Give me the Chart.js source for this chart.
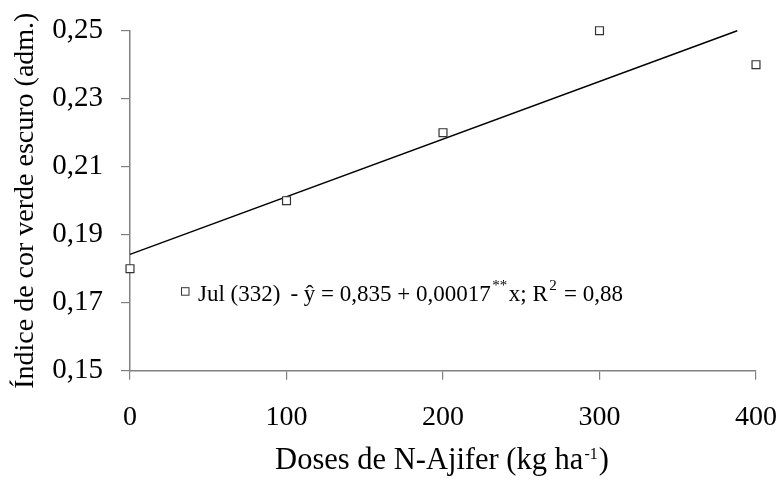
<!DOCTYPE html>
<html>
<head>
<meta charset="utf-8">
<script src="https://cdn.jsdelivr.net/npm/chart.js@4/dist/chart.umd.min.js"></script>
<style>html,body{margin:0;padding:0;background:#fff;}canvas{display:block;}</style>
</head>
<body>
<canvas id="c" width="781" height="487"></canvas>
<script>
// ---- data ----
const doses = [0, 100, 200, 300, 400];
const indiceJul = [0.18, 0.20, 0.22, 0.25, 0.24];
const trendX = [0, 388];
const trendY = [0.1842, 0.25];
const xTickValues = [0, 100, 200, 300, 400];
const yTickValues = [0.15, 0.17, 0.19, 0.21, 0.23, 0.25];
const seriesLabel = 'Jul (332)';
const equationParts = [
  {t: '- ŷ = 0,835 + 0,00017'},
  {t: '**', sup: true},
  {t: 'x; R'},
  {t: '2', sup: true},
  {t: ' = 0,88'}
];
const yTitle = 'Índice de cor verde escuro (adm.)';
const xTitleParts = [
  {t: 'Doses de N-Ajifer (kg ha'},
  {t: '-1', sup: true},
  {t: ')'}
];

const FONT = "'Liberation Serif', 'Times New Roman', serif";
const AXIS = '#808080';

function drawParts(c, parts, x, baseline, size, supSize, supRaise, gapSup) {
  let cx = x;
  parts.forEach(p => {
    if (p.sup) {
      c.font = supSize + 'px ' + FONT;
      cx += gapSup;
      c.fillText(p.t, cx, baseline - supRaise);
      cx += c.measureText(p.t).width + gapSup;
    } else {
      c.font = size + 'px ' + FONT;
      c.fillText(p.t, cx, baseline);
      cx += c.measureText(p.t).width;
    }
  });
  return cx;
}
function partsWidth(c, parts, size, supSize, gapSup) {
  let w = 0;
  parts.forEach(p => {
    c.font = (p.sup ? supSize : size) + 'px ' + FONT;
    w += c.measureText(p.t).width + (p.sup ? 2 * gapSup : 0);
  });
  return w;
}

const annotations = {
  id: 'annotations',
  afterDraw(chart) {
    const c = chart.ctx, a = chart.chartArea;
    c.save();
    c.textBaseline = 'alphabetic';
    c.textAlign = 'left';
    // legend marker
    const mx = a.left + 51.5, my = a.top + 260.5;
    c.fillStyle = '#fff';
    c.fillRect(mx, my - 3.5, 7.5, 7.5);
    c.strokeStyle = '#333';
    c.lineWidth = 1;
    c.strokeRect(mx, my - 3.5, 7.5, 7.5);
    // legend text
    c.fillStyle = '#000';
    const base = a.top + 270.5;
    c.font = '23px ' + FONT;
    const tx = a.left + 68;
    c.fillText(seriesLabel, tx, base);
    const ex = tx + c.measureText(seriesLabel).width + 10;
    drawParts(c, equationParts, ex, base, 23, 15, 11, 1.5);
    // x axis title
    const w = partsWidth(c, xTitleParts, 30.5, 16, 1);
    const cx = (a.left + a.right) / 2 - 1;
    drawParts(c, xTitleParts, cx - w / 2, 469, 30.5, 16, 10, 1);
    c.restore();
  }
};

new Chart(document.getElementById('c'), {
  type: 'scatter',
  data: {
    datasets: [
      {
        label: seriesLabel,
        data: doses.map((d, i) => ({x: d, y: indiceJul[i]})),
        pointStyle: 'rect',
        pointRadius: 5.6,
        pointBorderWidth: 1.2,
        pointBorderColor: '#333',
        pointBackgroundColor: '#fff',
        showLine: false,
        clip: false,
        order: 0
      },
      {
        label: 'ajuste',
        data: trendX.map((d, i) => ({x: d, y: trendY[i]})),
        showLine: true,
        borderColor: '#000',
        borderWidth: 1.5,
        pointRadius: 0,
        clip: false,
        order: 1
      }
    ]
  },
  options: {
    responsive: false,
    animation: false,
    devicePixelRatio: 1,
    layout: {padding: {top: 30.7, right: 25, bottom: 0, left: 0}},
    plugins: {legend: {display: false}, tooltip: {enabled: false}},
    scales: {
      x: {
        type: 'linear',
        min: 0, max: 400,
        afterBuildTicks: s => { s.ticks = xTickValues.map(v => ({value: v})); },
        afterFit: s => { s.height = 487 - 370.7; s.paddingLeft = 0; s.paddingRight = 0; },
        ticks: {
          font: {family: FONT, size: 28},
          color: '#000',
          padding: 21,
          maxRotation: 0,
          autoSkip: false,
          callback: v => String(v)
        },
        grid: {display: true, drawOnChartArea: false, drawTicks: true, tickLength: 9, color: AXIS, lineWidth: 1.2},
        border: {display: true, color: AXIS, width: 1.5},
        title: {display: false}
      },
      y: {
        type: 'linear',
        min: 0.15, max: 0.25,
        afterBuildTicks: s => { s.ticks = yTickValues.map(v => ({value: v})); },
        afterFit: s => { s.width = 130; s.paddingTop = 0; s.paddingBottom = 0; },
        ticks: {
          font: {family: FONT, size: 29},
          color: '#000',
          padding: 18,
          autoSkip: false,
          callback: v => v.toFixed(2).replace('.', ',')
        },
        grid: {display: true, drawOnChartArea: false, drawTicks: true, tickLength: 9, color: AXIS, lineWidth: 1.2},
        border: {display: true, color: AXIS, width: 1.5},
        title: {
          display: true,
          text: yTitle,
          font: {family: FONT, size: 28},
          color: '#000',
          padding: {top: 9, bottom: 0}
        }
      }
    }
  },
  plugins: [annotations]
});
</script>
</body>
</html>
